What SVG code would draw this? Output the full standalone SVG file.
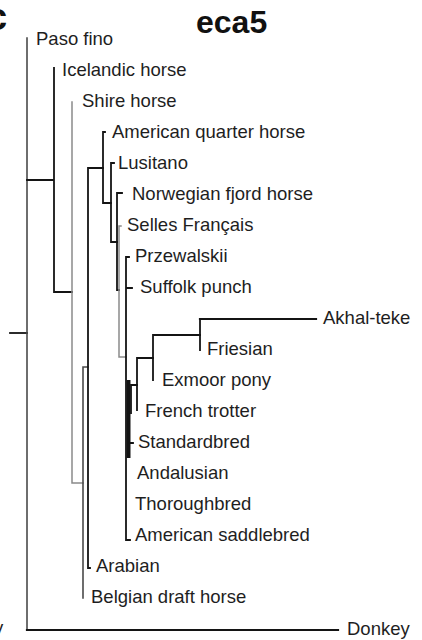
<svg xmlns="http://www.w3.org/2000/svg" width="422" height="640" viewBox="0 0 422 640">
<style>
text{font-family:"Liberation Sans",Arial,sans-serif;fill:#1e1e1e;font-size:18.5px}
.t{font-weight:bold;fill:#111}
.k{fill:none;stroke:#141414;stroke-width:1.8;stroke-linecap:square}
.g{fill:none;stroke:#8a8a8a;stroke-width:1.5;stroke-linecap:square}
.d{fill:none;stroke:#4a4a4a;stroke-width:1.6;stroke-linecap:square}
</style>
<rect width="422" height="640" fill="#fff"/>
<text class="t" x="-14" y="30" style="font-size:38px">c</text>
<text class="t" x="196" y="33" style="font-size:32px">eca5</text>
<text x="-6" y="634">y</text>
<g id="connectors">
<path class="k" d="M10,333H27"/>
<path class="d" d="M27,38V630"/>
<path class="k" d="M27,630H338" style="stroke-width:2.2"/>
<path class="k" d="M27,180H54M54,68V292M54,292H72"/>
<path class="g" d="M72,102V483H83"/>
<path class="d" d="M83,367V598M83,367H88"/>
<path class="k" d="M88,168V568H90M88,168H103"/>
<path class="k" d="M103,132V203H111M103,132H105"/>
<path class="k" d="M111,163V242H117M111,163H114"/>
<path class="k" d="M117,193V290H119M117,193H122"/>
<path class="g" d="M119,226V357H126M119,226H121"/>
<path class="k" d="M126,257V540H130M126,257H129M126,288H132"/>
<path class="k" d="M128.5,380V458" style="stroke-width:4;stroke-linecap:butt"/>
<path class="k" d="M131,385V413M131,385H137M129,443H133"/>
<path class="k" d="M137,358V410M137,358H153"/>
<path class="k" d="M153,335V380M153,335H200"/>
<path class="k" d="M200,319V350"/>
<path class="k" d="M200,319H316" style="stroke-width:2.2"/>
</g>
<g id="paso-fino"><text x="36" y="44.5">Paso fino</text></g>
<g id="icelandic-horse"><text x="62" y="75.5">Icelandic horse</text></g>
<g id="shire-horse"><text x="82" y="106.6">Shire horse</text></g>
<g id="american-quarter-horse"><text x="112" y="137.6">American quarter horse</text></g>
<g id="lusitano"><text x="118" y="168.7">Lusitano</text></g>
<g id="norwegian-fjord-horse"><text x="132" y="199.7">Norwegian fjord horse</text></g>
<g id="selles-francais"><text x="127" y="230.8">Selles Français</text></g>
<g id="przewalskii"><text x="135" y="261.8">Przewalskii</text></g>
<g id="suffolk-punch"><text x="140" y="292.9">Suffolk punch</text></g>
<g id="akhal-teke"><text x="323" y="324">Akhal-teke</text></g>
<g id="friesian"><text x="207" y="355">Friesian</text></g>
<g id="exmoor-pony"><text x="162" y="386">Exmoor pony</text></g>
<g id="french-trotter"><text x="145" y="417">French trotter</text></g>
<g id="standardbred"><text x="138" y="448">Standardbred</text></g>
<g id="andalusian"><text x="137" y="479">Andalusian</text></g>
<g id="thoroughbred"><text x="135" y="510">Thoroughbred</text></g>
<g id="american-saddlebred"><text x="135" y="541.3">American saddlebred</text></g>
<g id="arabian"><text x="96" y="572.3">Arabian</text></g>
<g id="belgian-draft-horse"><text x="91" y="603.4">Belgian draft horse</text></g>
<g id="donkey"><text x="347" y="634.5">Donkey</text></g>
</svg>
